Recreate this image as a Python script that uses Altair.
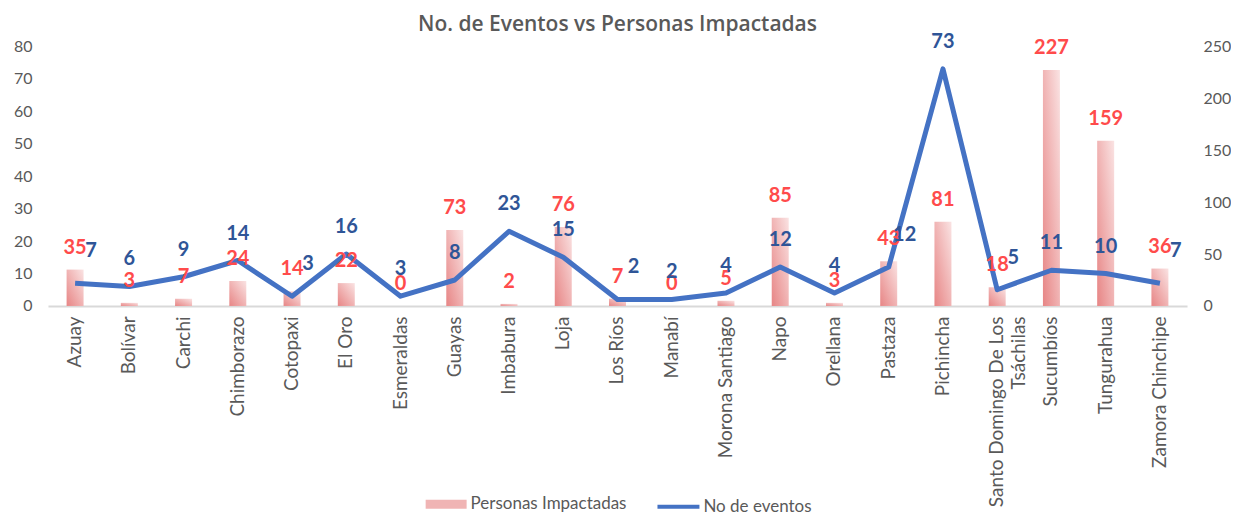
import altair as alt
import pandas as pd

provincias = ["Azuay", "Bolívar", "Carchi", "Chimborazo", "Cotopaxi", "El Oro",
              "Esmeraldas", "Guayas", "Imbabura", "Loja", "Los Ríos", "Manabí",
              "Morona Santiago", "Napo", "Orellana", "Pastaza", "Pichincha",
              "Santo Domingo De Los Tsáchilas", "Sucumbíos", "Tungurahua",
              "Zamora Chinchipe"]
personas = [35, 3, 7, 24, 14, 22, 0, 73, 2, 76, 7, 0, 5, 85, 3, 43, 81, 18, 227, 159, 36]
eventos = [7, 6, 9, 14, 3, 16, 3, 8, 23, 15, 2, 2, 4, 12, 4, 12, 73, 5, 11, 10, 7]
eventos_ticks = [0, 10, 20, 30, 40, 50, 60, 70, 80]
personas_ticks = [0, 50, 100, 150, 200, 250]
series = ["Personas Impactadas", "No de eventos"]

df = pd.DataFrame({"Provincia": provincias, "Personas": personas, "Eventos": eventos})

FONT = "Lato"
GRAY = "#595959"
W, H = 1140, 260
P_MAX, E_MAX = 250, 80
BAR_DY, LINE_DY = -22, -27
LEG_Y = 438

# labels of the line that would collide with the bar labels are moved aside
clash = (f"abs((datum.Personas * {H} / {P_MAX} - {BAR_DY}) - "
         f"(datum.Eventos * {H} / {E_MAX} - {LINE_DY})) < 10")

x_enc = alt.X(
    "Provincia:N",
    sort=provincias,
    scale=alt.Scale(paddingInner=0, paddingOuter=0),
    axis=alt.Axis(
        title=None,
        labelAngle=-90,
        labelFontSize=19,
        labelColor=GRAY,
        labelFont=FONT,
        labelPadding=10,
        labelLimit=260,
        labelLineHeight=22,
        labelExpr="length(datum.value) > 24 ? ['Santo Domingo De Los', 'Tsáchilas'] : datum.value",
        ticks=False,
        domainColor="#D9D9D9",
        domainWidth=2,
        grid=False,
    ),
)

base = alt.Chart(df)

gradient = alt.LinearGradient(
    gradient="linear",
    stops=[alt.GradientStop(color="#E78585", offset=0),
           alt.GradientStop(color="#FAE3E3", offset=1)],
    x1=0, y1=1, x2=1, y2=0,
)

bars = base.mark_bar(size=17, fill=gradient).encode(
    x=x_enc,
    y=alt.Y("Personas:Q", scale=alt.Scale(domain=[0, P_MAX]),
            axis=alt.Axis(orient="right", values=personas_ticks, title=None,
                          grid=False, domain=False, ticks=False,
                          labelFontSize=16, labelColor=GRAY, labelFont=FONT,
                          labelPadding=16)),
)

bar_legend = base.transform_filter("false").transform_calculate(
    serie="'" + series[0] + "'"
).mark_bar().encode(
    fill=alt.Fill("serie:N",
                  scale=alt.Scale(domain=[series[0]], range=["#F0B4B4"]),
                  legend=alt.Legend(title=None, orient="none", legendX=378, legendY=LEG_Y,
                                    symbolType="M-1,-0.22H1V0.22H-1Z", symbolSize=1681,
                                    symbolStrokeWidth=0, labelFontSize=17, labelColor=GRAY,
                                    labelFont=FONT, labelOffset=4)),
)

line = base.transform_calculate(serie="'" + series[1] + "'").mark_line(
    strokeWidth=5, strokeJoin="round").encode(
    x=x_enc,
    y=alt.Y("Eventos:Q", scale=alt.Scale(domain=[0, E_MAX]),
            axis=alt.Axis(orient="left", values=eventos_ticks, title=None,
                          grid=False, domain=False, ticks=False,
                          labelFontSize=16, labelColor=GRAY, labelFont=FONT,
                          labelPadding=16)),
    stroke=alt.Stroke("serie:N",
                      scale=alt.Scale(domain=[series[1]], range=["#4472C4"]),
                      legend=alt.Legend(title=None, orient="none", legendX=608, legendY=LEG_Y,
                                        symbolType="stroke", symbolSize=1764,
                                        symbolStrokeWidth=4, labelFontSize=17,
                                        labelColor=GRAY, labelFont=FONT, labelOffset=2)),
)

bar_labels = base.mark_text(dy=BAR_DY, color="#FF4B4B", fontSize=20, fontWeight="bold",
                            font=FONT, baseline="middle").encode(
    x=x_enc,
    y=alt.Y("Personas:Q", scale=alt.Scale(domain=[0, P_MAX]), axis=None),
    text="Personas:Q",
)

line_text = dict(color="#2F5597", fontSize=20, fontWeight="bold", font=FONT,
                 baseline="middle")
line_y = alt.Y("Eventos:Q", scale=alt.Scale(domain=[0, E_MAX]), axis=None)

line_labels = base.transform_filter("!(" + clash + ")").mark_text(
    dy=LINE_DY, **line_text).encode(x=x_enc, y=line_y, text="Eventos:Q")

line_labels_moved = base.transform_filter(clash).mark_text(
    dy=-32, dx=16, **line_text).encode(x=x_enc, y=line_y, text="Eventos:Q")

chart = alt.layer(
    alt.layer(bars, bar_legend), line, bar_labels,
    alt.layer(line_labels, line_labels_moved)
).resolve_scale(y="independent").properties(
    width=W,
    height=H,
    title=alt.TitleParams("No. de Eventos vs Personas Impactadas", fontSize=21,
                          fontWeight=600, color=GRAY, font="Open Sans", anchor="middle",
                          frame="group", offset=-3),
    padding={"left": 5, "top": 5, "right": 0, "bottom": 0},
).configure_view(stroke=None)

chart.save("out.html", embed_options={"renderer": "svg", "actions": False})
